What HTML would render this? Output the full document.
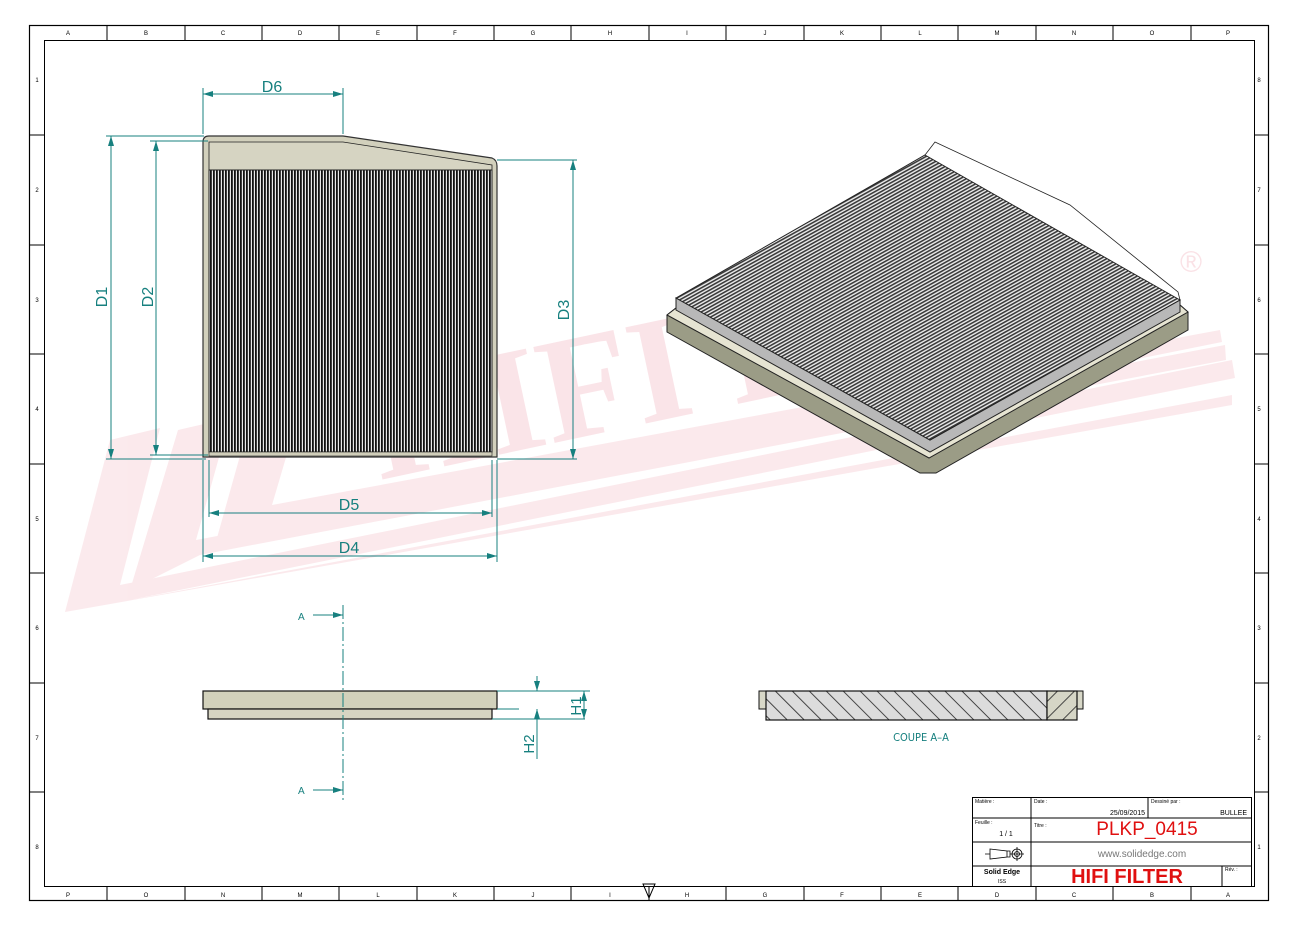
<!DOCTYPE html>
<html><head><meta charset="utf-8"><style>
html,body{margin:0;padding:0;background:#fff;}
svg{display:block;font-family:"Liberation Sans",sans-serif;}
</style></head><body>
<svg width="1300" height="930" viewBox="0 0 1300 930" xmlns="http://www.w3.org/2000/svg">
<defs>
<pattern id="vp" width="3" height="10" patternUnits="userSpaceOnUse">
<rect width="3" height="10" fill="#e8e8e8"/><rect width="1.8" height="10" fill="#111"/>
</pattern>
<pattern id="dp" width="3" height="3" patternUnits="userSpaceOnUse" patternTransform="rotate(-29)">
<rect width="3" height="3" fill="#eeeeee"/><rect width="3" height="1.6" fill="#3a3a3a"/>
</pattern>
<pattern id="hatch" width="12" height="12" patternUnits="userSpaceOnUse" patternTransform="rotate(45)">
<rect width="12" height="12" fill="#dcdcdc"/><rect width="12" height="0.8" fill="#222"/>
</pattern>
<pattern id="hatch2" width="12" height="12" patternUnits="userSpaceOnUse" patternTransform="rotate(-45)">
<rect width="12" height="12" fill="#d6d6c6"/><rect width="12" height="0.8" fill="#222"/>
</pattern>
<marker id="ar" viewBox="0 0 10 6" refX="10" refY="3" markerWidth="10" markerHeight="6" orient="auto-start-reverse" markerUnits="userSpaceOnUse">
<path d="M0,0 L10,3 L0,6 z" fill="#17807f"/></marker>
</defs>

<!-- watermark -->
<g fill="#f3b8c2" opacity="0.3">
<polygon points="65,612 110,440 160,428 120,585 1232,360 1235,378 130,600 1232,395 1232,405"/>
<polygon points="130,590 178,430 230,418 196,540 1225,345 1226,360 200,555"/>
<polygon points="215,545 250,420 300,410 272,505 1220,330 1222,342"/>
</g>
<g fill="#f2b5c0" opacity="0.35" font-family="Liberation Serif,serif" font-weight="bold" font-size="150">
<text x="380" y="480" transform="rotate(-12 380 480)">HIFI F</text>
</g>
<text x="1180" y="272" font-size="30" fill="#f3b8c2" opacity="0.4">®</text>

<!-- frame -->
<rect x="29.5" y="25.5" width="1239" height="875" fill="none" stroke="#000" stroke-width="1.2"/>
<rect x="44.5" y="40.5" width="1210" height="846" fill="none" stroke="#000" stroke-width="1"/>
<g stroke="#000" stroke-width="1">
<path d="M107 25v15M185 25v15M262 25v15M339 25v15M417 25v15M494 25v15M571 25v15M649 25v15M726 25v15M804 25v15M881 25v15M958 25v15M1036 25v15M1113 25v15M1191 25v15"/>
<path d="M107 887v14M185 887v14M262 887v14M339 887v14M417 887v14M494 887v14M571 887v14M649 887v14M726 887v14M804 887v14M881 887v14M958 887v14M1036 887v14M1113 887v14M1191 887v14"/>
<path d="M29 135h15M29 245h15M29 354h15M29 464h15M29 573h15M29 683h15M29 792h15"/>
<path d="M1255 135h14M1255 245h14M1255 354h14M1255 464h14M1255 573h14M1255 683h14M1255 792h14"/>
</g>
<g font-size="6" fill="#000" text-anchor="middle">
<text x="68" y="35">A</text><text x="146" y="35">B</text><text x="223" y="35">C</text><text x="300" y="35">D</text><text x="378" y="35">E</text><text x="455" y="35">F</text><text x="533" y="35">G</text><text x="610" y="35">H</text><text x="687" y="35">I</text><text x="765" y="35">J</text><text x="842" y="35">K</text><text x="920" y="35">L</text><text x="997" y="35">M</text><text x="1074" y="35">N</text><text x="1152" y="35">O</text><text x="1228" y="35">P</text>
<text x="68" y="897">P</text><text x="146" y="897">O</text><text x="223" y="897">N</text><text x="300" y="897">M</text><text x="378" y="897">L</text><text x="455" y="897">K</text><text x="533" y="897">J</text><text x="610" y="897">I</text><text x="687" y="897">H</text><text x="765" y="897">G</text><text x="842" y="897">F</text><text x="920" y="897">E</text><text x="997" y="897">D</text><text x="1074" y="897">C</text><text x="1152" y="897">B</text><text x="1228" y="897">A</text>
<text x="1259" y="82">8</text><text x="1259" y="192">7</text><text x="1259" y="302">6</text><text x="1259" y="411">5</text><text x="1259" y="521">4</text><text x="1259" y="630">3</text><text x="1259" y="740">2</text><text x="1259" y="849">1</text>
<text x="37" y="82">1</text><text x="37" y="192">2</text><text x="37" y="302">3</text><text x="37" y="411">4</text><text x="37" y="521">5</text><text x="37" y="630">6</text><text x="37" y="740">7</text><text x="37" y="849">8</text>
</g>
<path d="M643 884 h12 l-6 14 z" fill="none" stroke="#000"/>

<!-- front view -->
<path d="M203 142 Q203 136 209 136 L343 136 L492 158 Q497 160 497 166 L497 457 L203 457 Z" fill="#d2d0bc" stroke="#333" stroke-width="1.2"/>
<path d="M209 142 L343 142 L492 165 L492 170 L209 170 Z" fill="#d6d4c2" stroke="#222" stroke-width="0.8"/>
<rect x="209" y="170" width="283" height="282" fill="url(#vp)" stroke="#222" stroke-width="1"/>
<rect x="209" y="452" width="283" height="4" fill="#d0ceba" stroke="#222" stroke-width="0.6"/>

<!-- dimensions -->
<g stroke="#17807f" stroke-width="1" fill="none">
<path d="M203 88v46M343 88v46M106 136h98M150 141h58M497 160h80M106 459h100M150 455h58M497 459h80M203 460v102M209 460v57M492 460v57M497 460v102"/>
<path d="M203 94H343" marker-start="url(#ar)" marker-end="url(#ar)"/>
<path d="M111 136V459" marker-start="url(#ar)" marker-end="url(#ar)"/>
<path d="M156 141V455" marker-start="url(#ar)" marker-end="url(#ar)"/>
<path d="M573 160V459" marker-start="url(#ar)" marker-end="url(#ar)"/>
<path d="M209 513H492" marker-start="url(#ar)" marker-end="url(#ar)"/>
<path d="M203 556H497" marker-start="url(#ar)" marker-end="url(#ar)"/>
</g>
<g fill="#17807f" font-size="16" text-anchor="middle">
<text x="272" y="92">D6</text>
<text x="349" y="510">D5</text>
<text x="349" y="553">D4</text>
<text transform="translate(107 297) rotate(-90)">D1</text>
<text transform="translate(153 297) rotate(-90)">D2</text>
<text transform="translate(569 310) rotate(-90)">D3</text>
</g>

<!-- side view -->
<rect x="203" y="691" width="294" height="18" fill="#d2d1bb" stroke="#111" stroke-width="1.2"/>
<rect x="208" y="709" width="284" height="10" fill="#d6d4c2" stroke="#111" stroke-width="1.2"/>
<path d="M343 605V800" stroke="#17807f" stroke-dasharray="14,3,2,3" fill="none"/>
<g stroke="#17807f" fill="none">
<path d="M313 615H343" marker-end="url(#ar)"/><path d="M313 790H343" marker-end="url(#ar)"/>
<path d="M497 691h93M492 719h93M497 709h22"/>
<path d="M537 676V691" marker-end="url(#ar)"/><path d="M537 725V709" marker-end="url(#ar)"/><path d="M537 725v34"/>
<path d="M584 691V719" marker-start="url(#ar)" marker-end="url(#ar)"/>
</g>
<g fill="#17807f" font-size="10"><text x="298" y="620">A</text><text x="298" y="794">A</text></g>
<g fill="#17807f" font-size="15" text-anchor="middle">
<text transform="translate(581 706) rotate(-90)">H1</text>
<text transform="translate(534 744) rotate(-90)">H2</text>
</g>

<!-- section -->
<rect x="759" y="691" width="8" height="18" fill="#d8d8c8" stroke="#111"/>
<rect x="1077" y="691" width="6" height="18" fill="#d8d8c8" stroke="#111"/>
<rect x="766" y="691" width="281" height="29" fill="url(#hatch)" stroke="#111" stroke-width="1.2"/>
<rect x="1047" y="691" width="30" height="29" fill="url(#hatch2)" stroke="#111" stroke-width="1.2"/>
<text x="921" y="741" fill="#17807f" font-size="11" text-anchor="middle" font-family="DejaVu Sans Condensed,sans-serif">COUPE A–A</text>

<!-- iso view -->
<path d="M667 315 L676 308 L928 447 L1180 305 L1188 312 L1188 330 L936 473 L920 473 L667 332 Z" fill="#9b9c86" stroke="#222"/>
<path d="M667 315 L676 308 L928 447 L1180 305 L1188 312 L929 458 Z" fill="#e6e4d2" stroke="#222"/>
<path d="M676 298 L676 310 L930 452 L1180 312 L1180 300 L930 440 Z" fill="#b8b8b8" stroke="#222"/>
<path d="M676 298 L925 155 L1180 300 L930 440 Z" fill="url(#dp)" stroke="#222"/>
<path d="M925 155 L935 142 L1070 205 L1178 292 L1180 300 Z" fill="#fff" stroke="#222" stroke-width="0.8"/>

<!-- title block -->
<g stroke="#000" stroke-width="1" fill="none">
<rect x="972.5" y="797.5" width="279" height="89"/>
<path d="M972 818h279M972 842h279M972 866h279M1031 797v89M1148 797v21M1222 866v21"/>
</g>
<g font-size="5" fill="#000">
<text x="975" y="803">Matière :</text><text x="1034" y="803">Date :</text><text x="1151" y="803">Dessiné par :</text>
<text x="975" y="824">Feuille :</text><text x="1034" y="827">Titre :</text><text x="1225" y="871">Rév. :</text>
</g>
<text x="1145" y="815" font-size="7" text-anchor="end">25/09/2015</text>
<text x="1247" y="815" font-size="7" text-anchor="end">BULLEE</text>
<text x="1006" y="836" font-size="7" text-anchor="middle">1 / 1</text>
<text x="1147" y="835" font-size="19" fill="#e01010" text-anchor="middle">PLKP_0415</text>
<text x="1142" y="857" font-size="10" fill="#777" text-anchor="middle">www.solidedge.com</text>
<text x="1127" y="883" font-size="20" font-weight="bold" fill="#e01010" text-anchor="middle">HIFI FILTER</text>
<text x="1002" y="874" font-size="7" font-weight="bold" text-anchor="middle">Solid Edge</text>
<text x="1002" y="883" font-size="5" text-anchor="middle">ISS</text>
<g stroke="#000" fill="none" stroke-width="0.8">
<path d="M985 854h5M990 849l17 2v6l-17 2z M1007 851h3v6h-3"/>
<circle cx="1017" cy="854" r="5"/><circle cx="1017" cy="854" r="2.5"/><path d="M1010 854h14M1017 847v14"/>
</g>
</svg>
</body></html>
